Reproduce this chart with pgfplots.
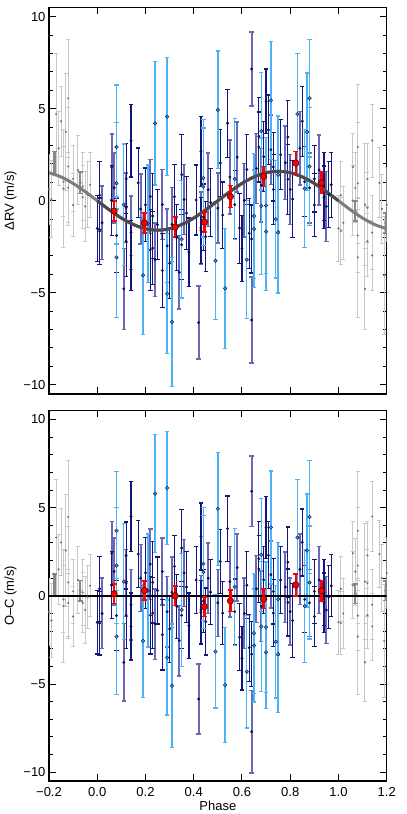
\documentclass[border=0pt]{standalone}
\usepackage{fontspec}
\setmainfont{Liberation Sans}
\usepackage{pgfplots}
\usepackage{pgfplotstable}
\pgfplotsset{compat=1.18}

\definecolor{navybar}{RGB}{20,20,125}
\definecolor{slatebar}{RGB}{105,105,180}
\definecolor{lbbar}{RGB}{75,180,248}
\definecolor{lbfill}{RGB}{60,150,220}
\definecolor{dotcol}{RGB}{15,15,70}
\definecolor{graybar}{RGB}{200,200,200}
\definecolor{graydot}{RGB}{120,120,120}
\definecolor{graybin}{RGB}{135,135,135}
\definecolor{curvelight}{RGB}{125,125,125}
\definecolor{curvedark}{RGB}{75,75,75}
\definecolor{binred}{RGB}{255,0,0}
\definecolor{binedge}{RGB}{90,0,0}

\newcommand{\fsz}{\fontsize{13bp}{15bp}\selectfont}

% navy data set: phase, RV, O-C, error
\pgfplotstableread{
p v r e
0.00 -1.50 -1.50 1.80
0.01 0.30 0.40 1.85
0.01 -1.65 -1.55 1.80
0.06 0.01 0.60 1.90
0.08 -1.89 -1.12 2.00
0.12 1.19 2.29 1.90
0.12 -2.20 -1.10 1.90
0.14 3.27 4.50 1.98
0.14 -2.97 -1.74 1.90
0.17 0.97 2.37 1.90
0.20 -0.22 1.30 2.00
0.22 -2.67 -1.10 2.20
0.23 -0.83 0.76 2.30
0.23 -2.57 -0.98 2.00
0.25 -1.30 0.30 1.90
0.27 -3.79 -2.20 2.00
0.30 -3.40 -1.88 1.90
0.32 0.22 1.67 1.74
0.33 -2.00 -0.60 1.80
0.35 1.42 2.71 2.18
0.35 -2.39 -1.10 1.90
0.37 -0.67 0.50 2.00
0.38 -2.79 -1.69 1.85
0.41 0.04 0.90 1.90
0.43 2.69 3.37 1.90
0.43 -1.61 -0.93 1.80
0.44 -0.89 -0.30 1.80
0.45 -1.95 -1.46 1.90
0.47 -0.09 0.21 1.85
0.51 2.05 1.95 1.80
0.52 -0.78 -0.98 1.80
0.54 4.21 3.81 1.85
0.57 -0.21 -0.89 1.85
0.59 -1.49 -2.35 1.90
0.60 -2.60 -3.54 1.80
0.62 1.70 0.60 1.90
0.63 -1.77 -2.94 1.90
0.64 -2.08 -3.31 1.85
0.67 3.50 2.10 2.10
0.67 2.92 1.52 1.90
0.69 2.40 0.91 1.90
0.70 5.40 3.88 1.76
0.71 3.85 2.30 1.90
0.73 0.61 -0.98 1.90
0.73 1.84 0.25 1.85
0.76 2.50 0.90 1.90
0.79 3.46 1.91 2.00
0.79 1.17 -0.38 1.90
0.81 0.09 -1.40 2.10
0.85 4.32 3.03 1.90
0.86 1.03 -0.20 1.90
0.90 -0.23 -1.17 1.70
0.90 1.19 0.25 1.80
0.94 0.78 0.19 1.85
0.94 0.19 -0.40 1.70
0.96 0.33 -0.07 1.80
0.97 0.87 0.57 1.76
}\dataA

% slate data set
\pgfplotstableread{
p v r e
0.02 -1.20 -1.00 2.00
0.06 1.83 2.42 1.80
0.07 0.70 1.38 1.90
0.11 -4.79 -3.77 2.20
0.12 -0.38 0.72 1.90
0.14 -1.73 -0.50 2.00
0.18 -0.45 1.00 1.90
0.22 0.23 1.80 2.00
0.24 -3.20 -1.60 2.00
0.27 -0.21 1.38 1.90
0.29 -2.45 -0.90 2.00
0.31 -1.29 0.20 2.00
0.34 -3.89 -2.54 2.00
0.36 0.07 1.30 1.90
0.42 -6.62 -5.85 1.98
0.43 -1.48 -0.80 1.95
0.46 0.60 1.00 2.00
0.50 -0.40 -0.40 1.90
0.55 1.29 0.80 2.00
0.58 2.37 1.60 1.90
0.61 0.02 -1.00 2.00
0.64 7.16 5.93 2.00
0.64 -6.48 -7.71 2.33
0.66 1.75 0.40 1.90
0.68 0.85 -0.60 2.00
0.72 2.77 1.20 1.90
0.78 2.07 0.50 2.00
0.80 0.62 -0.90 1.90
0.84 2.85 1.50 2.00
0.88 0.70 -0.40 1.90
0.92 1.67 0.90 1.90
0.95 -0.31 -0.80 1.90
}\dataB

% light blue data set
\pgfplotstableread{
p v r e
0.08 2.92 3.69 3.37
0.08 0.95 1.72 3.30
0.08 -3.08 -2.31 3.28
0.11 -0.21 0.81 3.30
0.19 -4.05 -2.56 3.22
0.21 -1.25 0.30 3.20
0.24 4.20 5.80 3.35
0.29 4.57 6.12 3.20
0.29 -5.05 -3.50 3.26
0.31 -6.59 -5.10 3.50
0.35 -2.09 -0.80 3.20
0.44 0.76 1.35 3.20
0.44 1.23 1.82 3.20
0.49 -3.26 -3.16 3.20
0.50 4.94 4.94 3.20
0.53 -4.76 -5.06 3.27
0.57 1.18 0.50 3.30
0.62 -3.20 -4.30 3.20
0.65 -1.53 -2.82 3.20
0.65 -0.83 -2.12 3.40
0.68 3.78 2.33 3.20
0.68 -0.29 -1.74 3.70
0.70 -1.68 -3.20 3.20
0.70 -0.26 -1.78 3.70
0.72 5.45 3.88 3.20
0.74 -1.00 -2.60 3.20
0.75 -1.71 -3.31 3.30
0.75 1.41 -0.19 3.20
0.83 4.71 3.31 3.28
0.86 0.66 -0.57 3.20
0.87 3.74 2.57 3.20
0.88 5.57 4.47 3.20
0.88 1.86 0.76 3.20
}\dataC

% binned points
\pgfplotstableread{
p v r e
0.070 -0.56 0.12 0.55
0.196 -1.21 0.30 0.55
0.323 -1.43 0.00 0.55
0.444 -1.16 -0.61 0.55
0.552 0.23 -0.28 0.60
0.690 1.32 -0.17 0.55
0.823 2.05 0.62 0.62
0.929 0.98 0.29 0.58
}\dataR

\pgfplotsset{
  panel/.style={
    scale only axis, width=337.7bp,
    xmin=-0.2, xmax=1.2, ymin=-10.5, ymax=10.5,
    xtick={-0.2,0,0.2,0.4,0.6,0.8,1.0,1.2},
    ytick={-10,-5,0,5,10}, yticklabels={−10,−5,0,5,10},
    minor ytick={-9,-8,-7,-6,-4,-3,-2,-1,1,2,3,4,6,7,8,9},
    tick align=inside, major tick length=6.5bp, minor tick length=4bp,
    axis line style={line width=1.2bp, black},
    tick style={black, line width=1bp},
    tick label style={font=\fsz},
    label style={font=\fsz},
    clip=true,
  },
  navyplot/.style={only marks, mark=*, mark size=1.3bp,
    mark options={fill=dotcol, draw=dotcol, line width=0.3bp},
    error bars/.cd, y dir=both, y explicit,
    error bar style={navybar, line width=1.2bp},
    error mark options={rotate=90, navybar, line width=1.2bp, mark size=2.2bp}},
  slateplot/.style={only marks, mark=*, mark size=1.3bp,
    mark options={fill=dotcol, draw=dotcol, line width=0.3bp},
    error bars/.cd, y dir=both, y explicit,
    error bar style={slatebar, line width=1.9bp},
    error mark options={rotate=90, slatebar, line width=1.5bp, mark size=2.2bp}},
  lbplot/.style={only marks, mark=*, mark size=1.8bp,
    mark options={fill=lbfill, draw=dotcol, line width=0.4bp},
    error bars/.cd, y dir=both, y explicit,
    error bar style={lbbar, line width=1.4bp},
    error mark options={rotate=90, lbbar, line width=1.3bp, mark size=2.2bp}},
  grayplot/.style={only marks, mark=*, mark size=0.9bp,
    mark options={fill=graydot, draw=graydot},
    restrict x to domain=-0.205:1.205,
    error bars/.cd, y dir=both, y explicit,
    error bar style={graybar, line width=1bp},
    error mark options={rotate=90, graybar, line width=1bp, mark size=2bp}},
  graybinplot/.style={only marks, mark=*, mark size=1.4bp,
    mark options={fill=graybin, draw=graybin},
    restrict x to domain=-0.205:1.205,
    error bars/.cd, y dir=both, y explicit,
    error bar style={graybin, line width=2.2bp},
    error mark options={rotate=90, graybin, line width=1.5bp, mark size=2.4bp}},
  redplot/.style={only marks, mark=*, mark size=3.2bp,
    mark options={fill=binred, draw=binedge, line width=0.6bp},
    error bars/.cd, y dir=both, y explicit,
    error bar style={binred, line width=2.4bp},
    error mark options={rotate=90, binred, line width=1.6bp, mark size=2.6bp}},
}

% gray copies of the data one period earlier / later
\newcommand{\graycopies}[1]{%
  \addplot[grayplot] table[x expr=\thisrow{p}-1, y=#1, y error=e]{\dataB};
  \addplot[grayplot] table[x expr=\thisrow{p}+1, y=#1, y error=e]{\dataB};
  \addplot[grayplot] table[x expr=\thisrow{p}-1, y=#1, y error=e]{\dataA};
  \addplot[grayplot] table[x expr=\thisrow{p}+1, y=#1, y error=e]{\dataA};
  \addplot[grayplot] table[x expr=\thisrow{p}-1, y=#1, y error=e]{\dataC};
  \addplot[grayplot] table[x expr=\thisrow{p}+1, y=#1, y error=e]{\dataC};
  \addplot[graybinplot] table[x expr=\thisrow{p}-1, y=#1, y error=e]{\dataR};
  \addplot[graybinplot] table[x expr=\thisrow{p}+1, y=#1, y error=e]{\dataR};
}
\newcommand{\colored}[1]{%
  \addplot[slateplot] table[x=p, y=#1, y error=e]{\dataB};
  \addplot[navyplot] table[x=p, y=#1, y error=e]{\dataA};
  \addplot[lbplot] table[x=p, y=#1, y error=e]{\dataC};
}

\begin{document}
\begin{tikzpicture}
\useasboundingbox (0,0) rectangle (407bp,814bp);

\begin{axis}[panel, at={(49bp,420bp)}, anchor=south west, height=386.5bp,
  xticklabels={}, ylabel={ΔRV (m/s)}]
  \graycopies{v}
  \colored{v}
  \addplot[curvelight, line width=3bp, smooth] coordinates {
    (-0.20,1.522) (-0.15,1.294) (-0.10,0.941) (-0.05,0.494) (0.00,0)
    (0.05,-0.494) (0.10,-0.941) (0.15,-1.294) (0.20,-1.522) (0.25,-1.600)
    (0.30,-1.522) (0.35,-1.294) (0.40,-0.941) (0.45,-0.494) (0.50,0)
    (0.55,0.494) (0.60,0.941) (0.65,1.294) (0.70,1.522) (0.75,1.600)
    (0.80,1.522) (0.85,1.294) (0.90,0.941) (0.95,0.494) (1.00,0)
    (1.05,-0.494) (1.10,-0.941) (1.15,-1.294) (1.20,-1.522)};
  \addplot[curvedark, line width=3bp, smooth] coordinates {
    (0.00,0)
    (0.05,-0.494) (0.10,-0.941) (0.15,-1.294) (0.20,-1.522) (0.25,-1.600)
    (0.30,-1.522) (0.35,-1.294) (0.40,-0.941) (0.45,-0.494) (0.50,0)
    (0.55,0.494) (0.60,0.941) (0.65,1.294) (0.70,1.522) (0.75,1.600)
    (0.80,1.522) (0.85,1.294) (0.90,0.941) (0.95,0.494) (1.00,0)};
  \addplot[redplot] table[x=p, y=v, y error=e]{\dataR};
\end{axis}

\begin{axis}[panel, at={(49bp,33bp)}, anchor=south west, height=370.3bp,
  xticklabels={−0.2,0.0,0.2,0.4,0.6,0.8,1.0,1.2},
  xticklabel style={yshift=-3bp},
  xlabel={Phase}, xlabel style={yshift=2bp},
  ylabel={O–C (m/s)}]
  \graycopies{r}
  \colored{r}
  \addplot[black, line width=1.6bp] coordinates {(-0.2,0) (1.2,0)};
  \addplot[redplot] table[x=p, y=r, y error=e]{\dataR};
\end{axis}
\end{tikzpicture}
\end{document}
